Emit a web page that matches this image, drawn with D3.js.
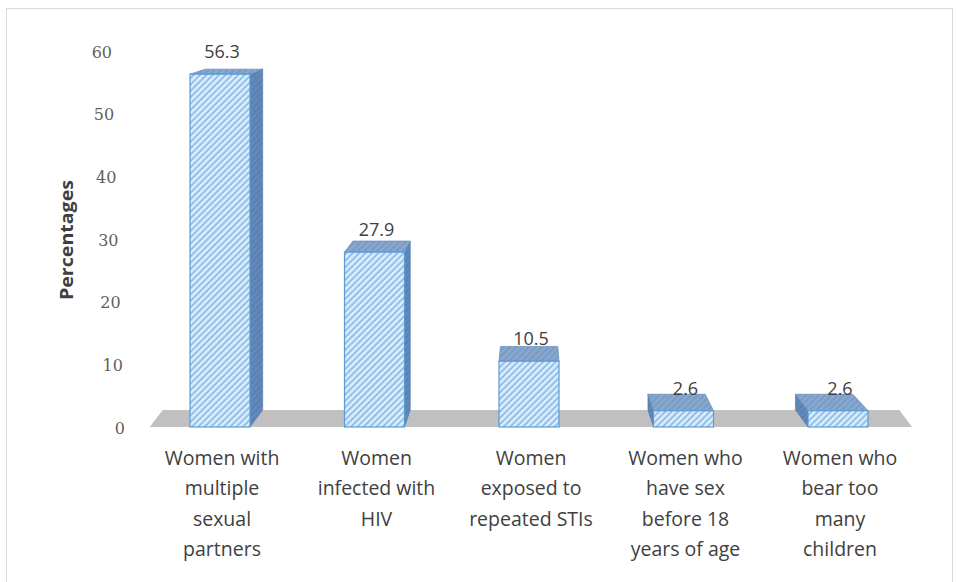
<!DOCTYPE html>
<html>
<head>
<meta charset="utf-8">
<script src="https://cdn.jsdelivr.net/npm/d3@7/dist/d3.min.js"></script>
<style>
  html, body { margin: 0; padding: 0; background: #ffffff; }
  svg { display: block; }
</style>
</head>
<body>
<svg id="chart" width="957" height="582"></svg>
<script>
// ---- data ----
const categories = [
  "Women with multiple sexual partners",
  "Women infected with HIV",
  "Women exposed to repeated STIs",
  "Women who have sex before 18 years of age",
  "Women who bear too many children"
];
const categoryLines = [
  ["Women with", "multiple", "sexual", "partners"],
  ["Women", "infected with", "HIV"],
  ["Women", "exposed to", "repeated STIs"],
  ["Women who", "have sex", "before 18", "years of age"],
  ["Women who", "bear too", "many", "children"]
];
const values = [56.3, 27.9, 10.5, 2.6, 2.6];
const yTicks = [0, 10, 20, 30, 40, 50, 60];
const yTitle = "Percentages";

// ---- layout ----
const svg = d3.select("#chart");

const x = d3.scalePoint().domain(categories).range([220, 838]);
const y = d3.scaleLinear().domain([0, 60]).range([427, 51]);
const tickX = d3.scaleLinear().domain([0, 60]).range([125, 112]);

const barW = 60;
// one-point perspective giving the floor and the columns their depth
const V = { x: 531, y: -73 };
function projector(sx, sy) {
  return (px, py, z) => [V.x + (px - V.x) * (1 - sx * z), V.y + (py - V.y) * (1 - sy * z)];
}
const projFloor = projector(0.034, 0.034);
const projBar = projector(0.045, 0.034);
const pts = arr => arr.map(p => p.join(",")).join(" ");

// outer frame
svg.append("rect")
  .attr("x", 6.5).attr("y", 8.5)
  .attr("width", 946).attr("height", 620)
  .attr("fill", "none").attr("stroke", "#d9d9d9").attr("stroke-width", 1);

// hatch patterns
const defs = svg.append("defs");
function hatch(id, bg, line, lw) {
  const p = defs.append("pattern")
    .attr("id", id).attr("patternUnits", "userSpaceOnUse")
    .attr("width", 4.5).attr("height", 4.5)
    .attr("patternTransform", "rotate(45)");
  p.append("rect").attr("width", 4.5).attr("height", 4.5).attr("fill", bg);
  p.append("line").attr("x1", 1).attr("y1", -1).attr("x2", 1).attr("y2", 6)
    .attr("stroke", line).attr("stroke-width", lw);
}
hatch("hFront", "#d6ebfb", "#8ab8e4", 1.6);
hatch("hTop", "#7c9dc6", "#91b0d5", 1.2);
hatch("hSide", "#5a82b3", "#6a8fbd", 1.2);

// floor
const y0 = y(0);
const step = x.step();
const fx0 = x.range()[0] - step * 0.455;
const fx1 = x.range()[1] + step * 0.48;
svg.append("polygon")
  .attr("points", pts([[fx0, y0], [fx1, y0], projFloor(fx1, y0, 1), projFloor(fx0, y0, 1)]))
  .attr("fill", "#c0c0c0");

// columns
const bars = svg.append("g");
categories.forEach((c, i) => {
  const xc = x(c);
  const xl = xc - barW / 2, xr = xc + barW / 2;
  const yt = y(values[i]);
  const g = bars.append("g");
  // the side face that faces the viewer
  const sideX = xr < V.x ? xr : (xl > V.x ? xl : null);
  if (sideX !== null) {
    g.append("polygon")
      .attr("points", pts([[sideX, yt], [sideX, y0], projBar(sideX, y0, 1), projBar(sideX, yt, 1)]))
      .attr("fill", "url(#hSide)").attr("stroke", "#5b82b2").attr("stroke-width", 0.8);
  }
  // top face
  g.append("polygon")
    .attr("points", pts([[xl, yt], [xr, yt], projBar(xr, yt, 1), projBar(xl, yt, 1)]))
    .attr("fill", "url(#hTop)").attr("stroke", "#6d90bd").attr("stroke-width", 0.8);
  // front face
  g.append("rect")
    .attr("x", xl).attr("y", yt)
    .attr("width", barW).attr("height", y0 - yt)
    .attr("fill", "url(#hFront)")
    .attr("stroke", "#5b9bd5").attr("stroke-width", 1.2);
});

// value labels
svg.append("g").selectAll("text")
  .data(values)
  .join("text")
  .attr("x", (d, i) => x(categories[i]) + 2)
  .attr("y", d => y(d) - 23)
  .attr("text-anchor", "middle")
  .attr("dominant-baseline", "central")
  .attr("font-family", "Open Sans, sans-serif")
  .attr("font-size", 18)
  .attr("fill", "#404040")
  .text(d => d.toFixed(1));

// y tick labels
svg.append("g").selectAll("text")
  .data(yTicks)
  .join("text")
  .attr("x", d => tickX(d))
  .attr("y", d => y(d) + 1)
  .attr("text-anchor", "end")
  .attr("dominant-baseline", "central")
  .attr("font-family", "DejaVu Serif, serif")
  .attr("font-size", 16)
  .attr("fill", "#5f5f5f")
  .text(d => d);

// y title
svg.append("text")
  .attr("transform", "translate(66,240) rotate(-90)")
  .attr("text-anchor", "middle")
  .attr("dominant-baseline", "central")
  .attr("font-family", "Open Sans, sans-serif")
  .attr("font-weight", "bold")
  .attr("font-size", 17)
  .attr("textLength", 120)
  .attr("lengthAdjust", "spacingAndGlyphs")
  .attr("fill", "#404040")
  .text(yTitle);

// category labels
const cat = svg.append("g");
categories.forEach((c, i) => {
  cat.append("text")
    .attr("x", x(c))
    .attr("text-anchor", "middle")
    .attr("font-family", "Open Sans, sans-serif")
    .attr("font-size", 19.5)
    .attr("fill", "#404040")
    .selectAll("tspan")
    .data(categoryLines[i])
    .join("tspan")
    .attr("x", x(c) + 2)
    .attr("y", (d, j) => 465 + j * 30.3)
    .text(d => d);
});
</script>
</body>
</html>
